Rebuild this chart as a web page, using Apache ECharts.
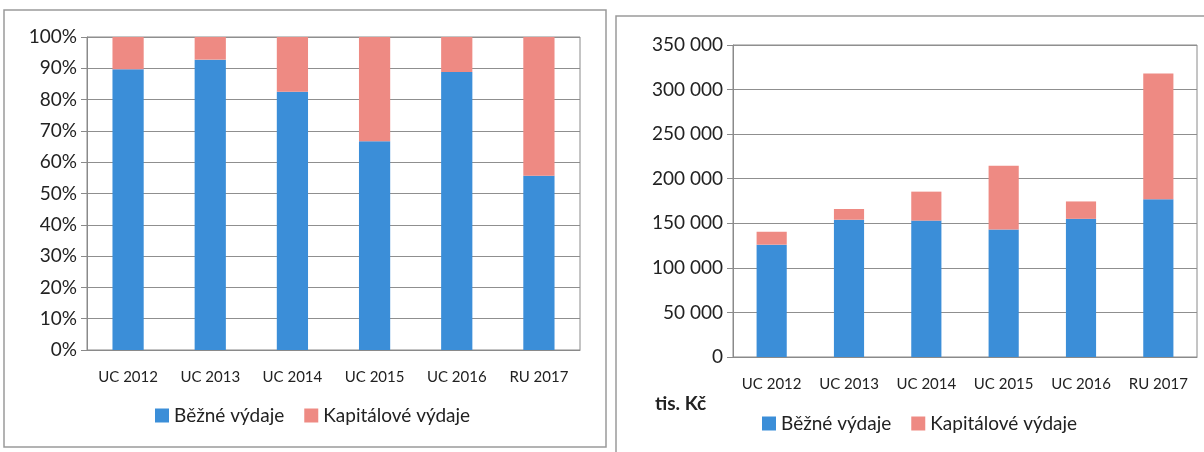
<!DOCTYPE html>
<html>
<head>
<meta charset="utf-8">
<script src="https://cdn.jsdelivr.net/npm/echarts@6/dist/echarts.min.js"></script>
<style>
  html, body { margin: 0; padding: 0; background: #fff; }
  #chart { width: 1204px; height: 452px; }
</style>
</head>
<body>
<div id="chart"></div>
<script>
const categories = ['UC 2012', 'UC 2013', 'UC 2014', 'UC 2015', 'UC 2016', 'RU 2017']
// tis. Kč
const bezne = [126000, 154000, 153000, 143000, 155000, 177000]
const kapitalove = [14500, 12000, 32500, 71500, 19500, 141000]

const BLUE = '#3b8ed8'
const RED = '#ee8a83'
const FONT = 'Lato'
const TEXT = '#222'

// podíly pro 100% graf
const bezneShare = bezne.map((v, i) => v / (v + kapitalove[i]))
const kapShare = kapitalove.map((v, i) => v / (bezne[i] + v))

const fmtThousands = v => String(v).replace(/\B(?=(\d{3})+(?!\d))/g, ' ')

const chart = echarts.init(document.getElementById('chart'))

const xAxisBase = {
  type: 'category',
  data: categories,
  axisLine: { lineStyle: { color: '#8a8a8a' } },
  axisTick: { show: false },
  axisLabel: { color: TEXT, fontFamily: FONT, fontSize: 15, margin: 20, interval: 0 }
}

const yAxisBase = {
  type: 'value',
  axisLine: { show: true, lineStyle: { color: '#8a8a8a' } },
  axisTick: { show: true, length: 6, lineStyle: { color: '#8a8a8a' } },
  splitLine: { lineStyle: { color: '#8f8f8f', width: 1 } },
  axisLabel: { color: TEXT, fontFamily: FONT, fontSize: 19, margin: 10 }
}

const legendBase = {
  itemWidth: 14, itemHeight: 14, itemGap: 20,
  icon: 'rect',
  textStyle: { color: TEXT, fontFamily: FONT, fontSize: 19 },
  data: ['Běžné výdaje', 'Kapitálové výdaje']
}

chart.setOption({
  animation: false,
  backgroundColor: '#fff',
  grid: [
    { left: 87, top: 37, width: 493, height: 313, show: true, borderColor: '#8a8a8a', borderWidth: 1 },
    { left: 733, top: 45, width: 464, height: 312, show: true, borderColor: '#8a8a8a', borderWidth: 1 }
  ],
  xAxis: [
    Object.assign({ gridIndex: 0 }, xAxisBase),
    Object.assign({ gridIndex: 1 }, xAxisBase)
  ],
  yAxis: [
    Object.assign({}, yAxisBase, {
      gridIndex: 0, min: 0, max: 1, interval: 0.1,
      axisLabel: Object.assign({}, yAxisBase.axisLabel, {
        formatter: v => Math.round(v * 100) + '%'
      })
    }),
    Object.assign({}, yAxisBase, {
      gridIndex: 1, min: 0, max: 350000, interval: 50000,
      axisLabel: Object.assign({}, yAxisBase.axisLabel, { formatter: fmtThousands })
    })
  ],
  legend: [
    Object.assign({ left: 150, top: 401 }, legendBase),
    Object.assign({ left: 757, top: 409 }, legendBase)
  ],
  graphic: [
    { type: 'rect', shape: { x: 4, y: 10, width: 602, height: 437 }, style: { fill: 'none', stroke: '#9a9a9a', lineWidth: 1.5 }, silent: true },
    { type: 'rect', shape: { x: 616, y: 16, width: 600, height: 444 }, style: { fill: 'none', stroke: '#9a9a9a', lineWidth: 1.5 }, silent: true },
    { type: 'text', left: 655, top: 394, style: { text: 'tis. Kč', fill: TEXT, font: 'bold 19px Lato' }, silent: true }
  ],
  series: [
    {
      name: 'Běžné výdaje', type: 'bar', stack: 'pct', xAxisIndex: 0, yAxisIndex: 0,
      data: bezneShare, barWidth: '38%', itemStyle: { color: BLUE }
    },
    {
      name: 'Kapitálové výdaje', type: 'bar', stack: 'pct', xAxisIndex: 0, yAxisIndex: 0,
      data: kapShare, barWidth: '38%', itemStyle: { color: RED }
    },
    {
      name: 'Běžné výdaje', type: 'bar', stack: 'abs', xAxisIndex: 1, yAxisIndex: 1,
      data: bezne, barWidth: '39%', itemStyle: { color: BLUE }
    },
    {
      name: 'Kapitálové výdaje', type: 'bar', stack: 'abs', xAxisIndex: 1, yAxisIndex: 1,
      data: kapitalove, barWidth: '39%', itemStyle: { color: RED }
    }
  ]
})
</script>
</body>
</html>
